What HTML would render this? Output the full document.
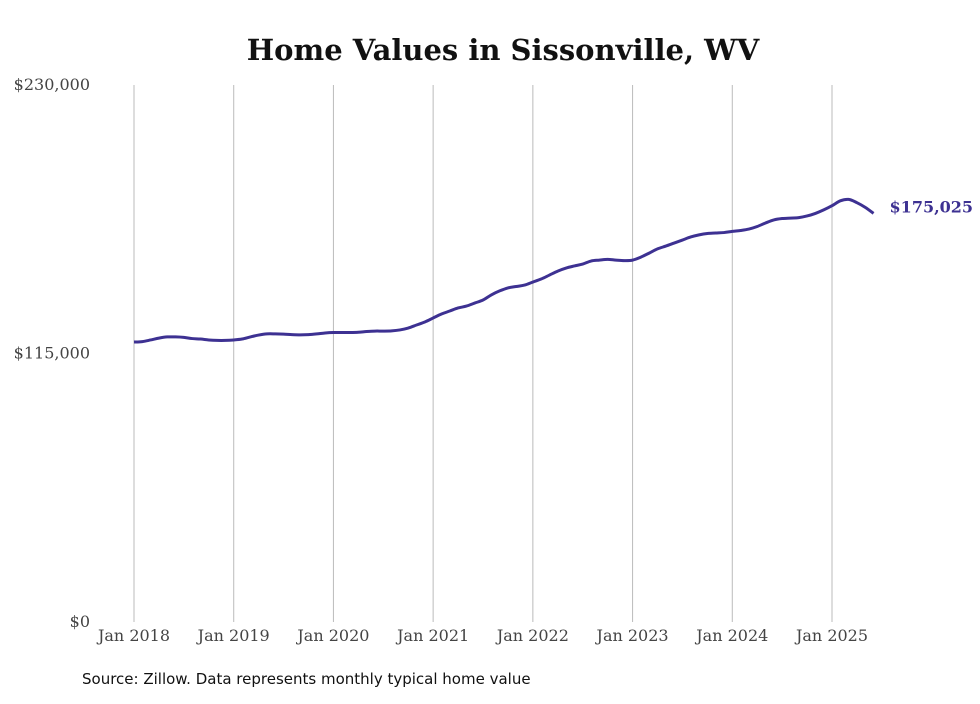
<!DOCTYPE html>
<html><head><meta charset="utf-8"><style>
body{margin:0;background:#fff;}
svg text{font-family:"DejaVu Serif","Liberation Serif",serif;}
</style></head><body>
<svg width="980" height="699" xmlns="http://www.w3.org/2000/svg">
<text x="503" y="60" text-anchor="middle" font-size="29" font-weight="bold" fill="#111">Home Values in Sissonville, WV</text>
<g id="grid"></g><g id="yaxis"></g><g id="xaxis"></g><g id="series"></g>
<text x="82" y="684" font-size="15" fill="#111" style="font-family:'DejaVu Sans','Liberation Sans',sans-serif">Source: Zillow. Data represents monthly typical home value</text>
</svg>
<script>
const years=["Jan 2018","Jan 2019","Jan 2020","Jan 2021","Jan 2022","Jan 2023","Jan 2024","Jan 2025"];
const yTicks=[0,115000,230000];
const yTickLabels=["$0","$115,000","$230,000"];
const values=[119.9,120.1,120.8,121.6,122.1,122.1,121.9,121.4,121.2,120.8,120.6,120.6,
120.8,121.2,122.1,122.9,123.4,123.4,123.3,123.1,123.0,123.1,123.4,123.8,
124.0,124.0,124.0,124.1,124.4,124.6,124.6,124.7,125.1,125.9,127.2,128.5,
130.2,131.9,133.2,134.5,135.3,136.6,137.9,140.1,141.8,143.1,143.7,144.3,
145.6,146.9,148.6,150.3,151.6,152.5,153.3,154.6,155.0,155.3,155.0,154.8,
155.0,156.3,158.0,159.8,161.0,162.3,163.6,164.9,165.8,166.4,166.6,166.8,
167.3,167.7,168.3,169.4,170.9,172.2,172.8,173.0,173.2,173.9,175.0,176.5,
178.3,180.4,181.0,179.6,177.6,175.025].map(v=>v*1000);
const lastLabel="$175,025";
const NS="http://www.w3.org/2000/svg";
const x=m=>134+m*(698/84);
const y=v=>622-v*(537/230000);
function mk(t,a,p){const e=document.createElementNS(NS,t);for(const k in a)e.setAttribute(k,a[k]);p.appendChild(e);return e;}
const grid=document.getElementById('grid'),xa=document.getElementById('xaxis'),ya=document.getElementById('yaxis'),se=document.getElementById('series');
years.forEach((lab,i)=>{
 const l=mk('line',{x1:x(i*12),x2:x(i*12),y1:85,y2:622,stroke:'#bbb','stroke-width':1},grid);
 
 
 const t=mk('text',{x:x(i*12),y:641,'text-anchor':'middle','font-size':16,fill:'#444'},xa);
 t.textContent=lab;
 
 
});
yTicks.forEach((v,i)=>{
 const t=mk('text',{x:90,y:y(v)+5,'text-anchor':'end','font-size':16,fill:'#444'},ya);
 t.textContent=yTickLabels[i];
 
 
});
const pts=values.map((v,i)=>[x(i),y(v)]);
let d='M'+pts[0][0]+','+pts[0][1];
for(let i=1;i<pts.length;i++){const p0=pts[i-1],p1=pts[i],pm=pts[i-2]||p0,pn=pts[i+1]||p1;
 const c1=[p0[0]+(p1[0]-pm[0])/6,p0[1]+(p1[1]-pm[1])/6],c2=[p1[0]-(pn[0]-p0[0])/6,p1[1]-(pn[1]-p0[1])/6];
 d+=' C'+c1+' '+c2+' '+p1;}
const path=mk('path',{d:d,fill:'none',stroke:'#3d3192','stroke-width':3,'stroke-linejoin':'round'},se);


const last=pts[pts.length-1];
const lt=mk('text',{x:last[0]+16,y:last[1]-1,'font-size':16,'font-weight':'bold',fill:'#3d3192'},se);
lt.textContent=lastLabel;


</script>
</body></html>
